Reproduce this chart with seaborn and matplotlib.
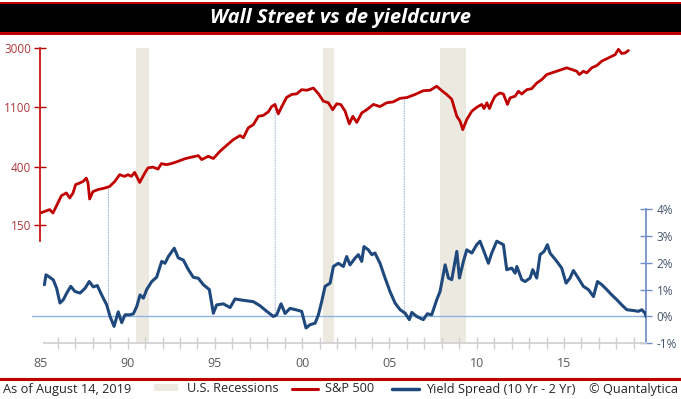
import numpy as np
import matplotlib
matplotlib.use("Agg")
import matplotlib.pyplot as plt
import seaborn as sns
from matplotlib.patches import Rectangle, ConnectionPatch
from matplotlib.lines import Line2D

# S&P 500 (log schaal)
sp_jaar = [1985.0, 1985.25, 1985.53, 1985.72, 1985.91, 1986.20, 1986.49, 1986.68, 1986.87, 1987.02,
           1987.25, 1987.44, 1987.63, 1987.73, 1987.82, 1988.01, 1988.30, 1988.68, 1988.97, 1989.26,
           1989.54, 1989.83, 1990.02, 1990.21, 1990.40, 1990.69, 1990.98, 1991.17, 1991.45, 1991.74,
           1991.93, 1992.22, 1992.50, 1992.89, 1993.27, 1993.56, 1994.05, 1994.24, 1994.62, 1994.91,
           1995.29, 1995.68, 1996.05, 1996.44, 1996.63, 1996.91, 1997.20, 1997.49, 1997.77, 1998.06,
           1998.25, 1998.44, 1998.63, 1998.83, 1999.11, 1999.40, 1999.69, 1999.97, 2000.26, 2000.64,
           2000.93, 2001.21, 2001.50, 2001.75, 2001.98, 2002.22, 2002.46, 2002.70, 2002.90, 2003.13,
           2003.41, 2003.70, 2004.08, 2004.46, 2004.85, 2005.22, 2005.61, 2005.99, 2006.47, 2006.94,
           2007.33, 2007.71, 2008.00, 2008.28, 2008.57, 2008.86, 2009.05, 2009.20, 2009.43, 2009.72,
           2010.00, 2010.29, 2010.42, 2010.58, 2010.73, 2010.86, 2011.05, 2011.33, 2011.53, 2011.76,
           2011.91, 2012.20, 2012.39, 2012.58, 2012.87, 2013.15, 2013.44, 2013.73, 2014.01, 2014.30,
           2014.59, 2014.87, 2015.16, 2015.45, 2015.73, 2015.88, 2016.11, 2016.31, 2016.59, 2016.88,
           2017.17, 2017.45, 2017.74, 2017.93, 2018.12, 2018.31, 2018.50, 2018.69]
sp_waarde = [183, 188, 194, 183, 205, 245, 257, 236, 257, 296,
             304, 312, 330, 304, 232, 263, 272, 279, 287, 312,
             350, 340, 350, 340, 364, 307, 360, 393, 398, 385,
             422, 415, 422, 439, 458, 468, 483, 452, 478, 460,
             520, 576, 633, 679, 654, 773, 816, 940, 954, 1014,
             1108, 1149, 979, 1108, 1295, 1360, 1375, 1475, 1460, 1516,
             1377, 1216, 1182, 1051, 1163, 1145, 1025, 827, 940, 848,
             994, 1051, 1149, 1108, 1182, 1200, 1274, 1290, 1360, 1449,
             1460, 1563, 1449, 1360, 1254, 940, 864, 750, 890, 1025,
             1095, 1149, 1071, 1182, 1071, 1182, 1321, 1395, 1370, 1149,
             1283, 1321, 1434, 1370, 1475, 1500, 1650, 1750, 1904, 1960,
             2015, 2074, 2134, 2074, 2015, 1904, 2015, 1960, 2134, 2219,
             2391, 2489, 2596, 2666, 2919, 2719, 2745, 2860]

# Yield spread 10 Yr - 2 Yr (%)
ys_jaar = [1985.23, 1985.32, 1985.55, 1985.74, 1985.93, 1986.12, 1986.31, 1986.51, 1986.74, 1986.98,
           1987.27, 1987.56, 1987.80, 1988.03, 1988.26, 1988.51, 1988.80, 1988.99, 1989.22, 1989.46,
           1989.66, 1989.85, 1990.13, 1990.33, 1990.52, 1990.71, 1990.90, 1991.09, 1991.38, 1991.66,
           1991.95, 1992.14, 1992.33, 1992.67, 1992.90, 1993.19, 1993.48, 1993.76, 1994.05, 1994.34,
           1994.68, 1994.91, 1995.10, 1995.48, 1995.87, 1996.15, 1996.63, 1997.20, 1997.58, 1997.97,
           1998.35, 1998.54, 1998.79, 1999.02, 1999.30, 1999.69, 1999.97, 2000.22, 2000.45, 2000.74,
           2000.93, 2001.12, 2001.31, 2001.60, 2001.79, 2002.07, 2002.36, 2002.55, 2002.74, 2003.03,
           2003.22, 2003.41, 2003.54, 2003.79, 2003.99, 2004.17, 2004.46, 2004.75, 2005.03, 2005.32,
           2005.61, 2005.90, 2006.14, 2006.28, 2006.56, 2006.94, 2007.17, 2007.42, 2007.71, 2007.90,
           2008.19, 2008.38, 2008.57, 2008.86, 2009.01, 2009.24, 2009.43, 2009.72, 2010.00, 2010.19,
           2010.38, 2010.67, 2010.86, 2011.15, 2011.53, 2011.72, 2012.01, 2012.20, 2012.30, 2012.58,
           2012.77, 2013.06, 2013.21, 2013.44, 2013.63, 2013.86, 2014.05, 2014.20, 2014.59, 2014.87,
           2015.12, 2015.35, 2015.54, 2015.82, 2016.11, 2016.40, 2016.69, 2016.92, 2017.17, 2017.45,
           2017.74, 2018.03, 2018.31, 2018.60, 2018.98, 2019.26, 2019.46, 2019.65, 2019.70]
ys_waarde = [1.18, 1.55, 1.45, 1.36, 1.05, 0.50, 0.62, 0.87, 1.12, 0.93,
             0.87, 1.05, 1.30, 1.10, 1.15, 0.80, 0.43, 0.00, -0.37, 0.17,
             -0.23, 0.06, 0.06, 0.10, 0.37, 0.80, 0.68, 1.00, 1.30, 1.46,
             2.05, 1.98, 2.23, 2.54, 2.18, 2.10, 1.74, 1.46, 1.42, 1.18,
             1.00, 0.12, 0.43, 0.47, 0.33, 0.65, 0.60, 0.55, 0.40, 0.19,
             0.00, 0.06, 0.47, 0.11, 0.30, 0.24, 0.19, -0.43, -0.31, -0.25,
             0.06, 0.56, 1.12, 1.24, 1.86, 1.98, 1.86, 2.23, 1.92, 2.17,
             2.30, 2.05, 2.60, 2.48, 2.30, 2.36, 1.98, 1.43, 0.93, 0.50,
             0.25, 0.12, -0.12, 0.15, 0.00, -0.12, 0.10, 0.06, 0.62, 0.93,
             1.92, 1.43, 1.37, 2.42, 1.43, 2.05, 2.48, 2.36, 2.67, 2.80,
             2.48, 1.98, 2.36, 2.80, 2.67, 1.74, 1.80, 1.61, 1.86, 1.37,
             1.30, 1.43, 1.74, 1.43, 2.30, 2.42, 2.67, 2.36, 2.05, 1.80,
             1.24, 1.43, 1.71, 1.43, 1.12, 1.00, 0.74, 1.30, 1.18, 1.00,
             0.80, 0.62, 0.43, 0.25, 0.22, 0.19, 0.25, 0.12, 0.00]

# recessies (begin, eind) en inversiemomenten
recessie_start = [1990.5, 2001.2, 2007.9]
recessie_eind = [1991.2, 2001.8, 2009.4]
inversie_jaar = [1988.9, 1998.45, 2005.85]

sp_ticks = [150, 400, 1100, 3000]
ys_ticks = [-1, 0, 1, 2, 3, 4]
x_labels = ['85', '90', '95', '00', '05', '10', '15']

ROOD = '#C00000'
BLAUW = '#1F497D'
RECESSIE = '#ECE9E1'

sns.set_theme(style="white")
plt.rcParams['font.family'] = ['Open Sans', 'DejaVu Sans']

W, H = 681, 399
fig = plt.figure(figsize=(W / 100, H / 100), dpi=100)
fig.patch.set_facecolor('white')


def box(x0, y0, x1, y1):
    # pixels, oorsprong linksboven
    return [x0 / W, 1 - y1 / H, (x1 - x0) / W, (y1 - y0) / H]


XMIN, XMAX = 1985.0, 2019.7
ax_bg = fig.add_axes(box(40.4, 47.7, 646, 343.3))
ax_sp = fig.add_axes(box(40.4, 47.7, 646, 241))
ax_ys = fig.add_axes(box(40.4, 209, 646, 343.3))

# achtergrond met recessies
for a, b in zip(recessie_start, recessie_eind):
    ax_bg.axvspan(a, b, color=RECESSIE, lw=0)
ax_bg.set_xlim(XMIN, XMAX)
ax_bg.set_ylim(0, 1)
ax_bg.axis('off')

# S&P 500
sns.lineplot(x=sp_jaar, y=sp_waarde, ax=ax_sp, color=ROOD, lw=2.0)
ax_sp.set_facecolor('none')
ax_sp.set_yscale('log')
ax_sp.set_xlim(XMIN, XMAX)
ax_sp.set_ylim(114, 3000)
ax_sp.set_yticks(sp_ticks)
ax_sp.set_yticklabels([str(v) for v in sp_ticks])
ax_sp.yaxis.set_minor_locator(matplotlib.ticker.NullLocator())
ax_sp.tick_params(axis='y', direction='inout', length=9, width=1, color=ROOD,
                  labelcolor='#B03A3A', labelsize=8.5, pad=2, left=True)
ax_sp.set_xticks([])
for s in ['top', 'right', 'bottom']:
    ax_sp.spines[s].set_visible(False)
ax_sp.spines['left'].set_color(ROOD)
ax_sp.spines['left'].set_linewidth(1.2)

# yield spread
ax_ys.axhline(0, color='#8EB4E3', lw=1, xmin=-0.014, xmax=1, clip_on=False, zorder=1)
sns.lineplot(x=ys_jaar, y=ys_waarde, ax=ax_ys, color=BLAUW, lw=2.2, zorder=3)
ax_ys.set_facecolor('none')
ax_ys.set_xlim(XMIN, XMAX)
ax_ys.set_ylim(-1, 4)
ax_ys.yaxis.tick_right()
ax_ys.set_yticks(ys_ticks)
ax_ys.set_yticklabels([f'{v}%' for v in ys_ticks])
ax_ys.tick_params(axis='y', direction='inout', length=9, width=1, color='#6F8FC8',
                  labelcolor='#44546A', labelsize=8.5, pad=3, right=True)
ax_ys.set_xticks(np.arange(1985, 2016, 5))
ax_ys.set_xticklabels(x_labels)
ax_ys.set_xticks(np.arange(1986, 2020, 1), minor=True)
ax_ys.tick_params(axis='x', which='both', direction='inout', length=8, width=1,
                  color='#D0D0D0', labelcolor='#595959', labelsize=9, pad=6, bottom=True)
ax_ys.xaxis.get_major_ticks()[0].tick1line.set_visible(False)
for s in ['top', 'left']:
    ax_ys.spines[s].set_visible(False)
ax_ys.spines['right'].set_color('#6F8FC8')
ax_ys.spines['right'].set_bounds(-1, 4)
ax_ys.spines['bottom'].set_color('#D0D0D0')
ax_ys.spines['bottom'].set_bounds(1985.2, XMAX)
ax_ys.set_xlabel('')
ax_ys.set_ylabel('')
ax_sp.set_xlabel('')
ax_sp.set_ylabel('')

# stippellijnen van S&P naar de nullijn
for j in inversie_jaar:
    sp_j = np.exp(np.interp(j, sp_jaar, np.log(sp_waarde)))
    con = ConnectionPatch(xyA=(j, sp_j), coordsA=ax_sp.transData,
                          xyB=(j, 0), coordsB=ax_ys.transData,
                          color='#9FB2D4', lw=0.7, linestyle=(0, (1, 1.6)), zorder=-1)
    fig.add_artist(con)

# titelbalk
fig.add_artist(Rectangle((0, 1 - 34.7 / H), 1, 33 / H, transform=fig.transFigure,
                         color=ROOD, lw=0, zorder=-2))
fig.add_artist(Rectangle((0, 1 - 31.7 / H), 1, 27.7 / H, transform=fig.transFigure,
                         color='black', lw=0, zorder=-2))
fig.text(340 / W, 1 - 18.5 / H, 'Wall Street vs de yieldcurve', ha='center', va='center',
         color='white', fontsize=14.5, fontweight='bold', fontstyle='italic')

# voettekst / legenda
fig.add_artist(Line2D([0, 1], [1 - 378.5 / H] * 2, transform=fig.transFigure, color=ROOD, lw=2.2))
ly = 1 - 389 / H
fig.text(3 / W, ly, 'As of August 14, 2019', va='center', fontsize=9.2, color='#262626')
fig.add_artist(Rectangle((154 / W, 1 - 391 / H), 24 / W, 7 / H, transform=fig.transFigure,
                         color=RECESSIE, lw=0))
fig.text(187 / W, ly, 'U.S. Recessions', va='center', fontsize=9.2, color='#262626')
fig.add_artist(Line2D([292 / W, 318 / W], [1 - 388.5 / H] * 2, transform=fig.transFigure,
                      color=ROOD, lw=2.2))
fig.text(325 / W, ly, 'S&P 500', va='center', fontsize=9.2, color='#262626')
fig.add_artist(Line2D([392 / W, 419 / W], [1 - 388.5 / H] * 2, transform=fig.transFigure,
                      color=BLAUW, lw=2.5))
fig.text(426 / W, ly, 'Yield Spread (10 Yr - 2 Yr)', va='center', fontsize=9.2, color='#262626')
fig.text(678 / W, ly, '© Quantalytica', va='center', ha='right', fontsize=9.2, color='#262626')

fig.savefig('out.png', dpi=100, facecolor='white')
